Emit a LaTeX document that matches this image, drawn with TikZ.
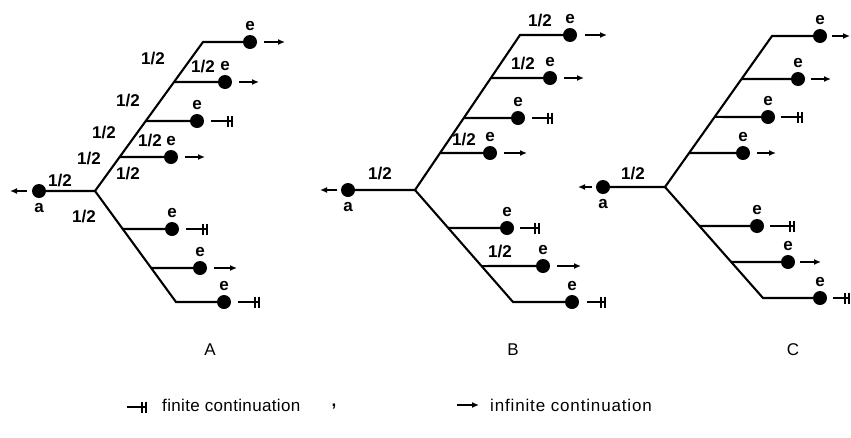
\documentclass[tikz,border=0pt]{standalone}
\usepackage{fontspec}
\setmainfont{Liberation Sans}
\usetikzlibrary{arrows.meta,calc}
\begin{document}
\begin{tikzpicture}[x=1pt,y=-1pt,
  ln/.style={line width=2.1pt},
  dotn/.style={circle,fill,inner sep=0pt,minimum size=14pt},
  lbl/.style={font=\fontsize{17}{17}\selectfont\bfseries,inner sep=0pt},
  txt/.style={font=\fontsize{17}{17}\selectfont,inner sep=0pt},
  elab/.style={label={[lbl,label distance=4pt]above:e}},
  alab/.style={label={[lbl,label distance=5pt]below:a}},
  inf/.style={line width=1.6pt,-{Latex[length=7pt,width=6pt]}},
  fin/.style={line width=1.6pt,-{Bar[width=11pt,line width=1.9pt,sep=2pt]Bar[width=11pt,line width=1.9pt]}},
]
\useasboundingbox (0,0) rectangle (851,437);

% ================= A =================
\coordinate (AR) at (95,191);
\coordinate (AT) at (203,42);
\coordinate (AL) at (176,302);
\coordinate (Ab1) at ($(AR)!0.7315!(AT)$);
\coordinate (Ab2) at ($(AR)!0.470!(AT)$);
\coordinate (Ab3) at ($(AR)!0.228!(AT)$);
\coordinate (Ab4) at ($(AR)!0.342!(AL)$);
\coordinate (Ab5) at ($(AR)!0.694!(AL)$);
\node[dotn,alab] (Aa) at (39,191) {};
\node[dotn,elab] (Ae0) at (250,42) {};
\node[dotn,elab] (Ae1) at (225,82) {};
\node[dotn,elab] (Ae2) at (197,121) {};
\node[dotn,elab] (Ae3) at (171,157) {};
\node[dotn,elab] (Ae4) at (172,229) {};
\node[dotn,elab] (Ae5) at (200,268) {};
\node[dotn,elab] (Ae6) at (224,302) {};
\draw[ln] (Aa.center) -- (AR) -- (AT) -- (Ae0.center);
\draw[ln] (AR) -- (AL) -- (Ae6.center);
\draw[ln] (Ab1) -- (Ae1.center);
\draw[ln] (Ab2) -- (Ae2.center);
\draw[ln] (Ab3) -- (Ae3.center);
\draw[ln] (Ab4) -- (Ae4.center);
\draw[ln] (Ab5) -- (Ae5.center);
\coordinate (Aas) at (27,191); \coordinate (Aat) at (10,191);
\draw[inf] (Aas) -- (Aat);
\coordinate (Ae0s) at (264,42);  \coordinate (Ae0t) at (285,42);  \draw[inf] (Ae0s) -- (Ae0t);
\coordinate (Ae1s) at (239,82);  \coordinate (Ae1t) at (259,82);  \draw[inf] (Ae1s) -- (Ae1t);
\coordinate (Ae2s) at (211,121); \coordinate (Ae2t) at (233,121); \draw[fin] (Ae2s) -- (Ae2t);
\coordinate (Ae3s) at (185,157); \coordinate (Ae3t) at (205,157); \draw[inf] (Ae3s) -- (Ae3t);
\coordinate (Ae4s) at (186,229); \coordinate (Ae4t) at (208,229); \draw[fin] (Ae4s) -- (Ae4t);
\coordinate (Ae5s) at (214,268); \coordinate (Ae5t) at (237,268); \draw[inf] (Ae5s) -- (Ae5t);
\coordinate (Ae6s) at (238,302); \coordinate (Ae6t) at (260,302); \draw[fin] (Ae6s) -- (Ae6t);
\node[lbl] (Ah1) at (60,181) {1/2};
\node[lbl] (Ah2) at (84,217) {1/2};
\node[lbl] (Ah3) at (89,159) {1/2};
\node[lbl] (Ah4) at (104,133) {1/2};
\node[lbl] (Ah5) at (128,101) {1/2};
\node[lbl] (Ah6) at (153,59) {1/2};
\node[lbl] (Ah7) at (203,67) {1/2};
\node[lbl] (Ah8) at (150,141) {1/2};
\node[lbl] (Ah9) at (128,174) {1/2};
\node[txt] (Alab) at (210,350) {A};

% ================= B =================
\coordinate (BR) at (415,190);
\coordinate (BT) at (520,35);
\coordinate (BL) at (513,302);
\coordinate (Bb1) at ($(BR)!0.7226!(BT)$);
\coordinate (Bb2) at ($(BR)!0.4645!(BT)$);
\coordinate (Bb3) at ($(BR)!0.2387!(BT)$);
\coordinate (Bb4) at ($(BR)!0.339!(BL)$);
\coordinate (Bb5) at ($(BR)!0.679!(BL)$);
\node[dotn,alab] (Ba) at (348,190) {};
\node[dotn,elab] (Be0) at (570,35) {};
\node[dotn,elab] (Be1) at (550,78) {};
\node[dotn,elab] (Be2) at (518,118) {};
\node[dotn,elab] (Be3) at (490,153) {};
\node[dotn,elab] (Be4) at (507,228) {};
\node[dotn,elab] (Be5) at (543,266) {};
\node[dotn,elab] (Be6) at (572,302) {};
\draw[ln] (Ba.center) -- (BR) -- (BT) -- (Be0.center);
\draw[ln] (BR) -- (BL) -- (Be6.center);
\draw[ln] (Bb1) -- (Be1.center);
\draw[ln] (Bb2) -- (Be2.center);
\draw[ln] (Bb3) -- (Be3.center);
\draw[ln] (Bb4) -- (Be4.center);
\draw[ln] (Bb5) -- (Be5.center);
\coordinate (Bas) at (337,190); \coordinate (Bat) at (320,190);
\draw[inf] (Bas) -- (Bat);
\coordinate (Be0s) at (585,35);  \coordinate (Be0t) at (607,35);  \draw[inf] (Be0s) -- (Be0t);
\coordinate (Be1s) at (564,78);  \coordinate (Be1t) at (584,78);  \draw[inf] (Be1s) -- (Be1t);
\coordinate (Be2s) at (532,118); \coordinate (Be2t) at (553,118); \draw[fin] (Be2s) -- (Be2t);
\coordinate (Be3s) at (504,153); \coordinate (Be3t) at (527,153); \draw[inf] (Be3s) -- (Be3t);
\coordinate (Be4s) at (520,228); \coordinate (Be4t) at (540,228); \draw[fin] (Be4s) -- (Be4t);
\coordinate (Be5s) at (557,266); \coordinate (Be5t) at (581,266); \draw[inf] (Be5s) -- (Be5t);
\coordinate (Be6s) at (587,302); \coordinate (Be6t) at (606,302); \draw[fin] (Be6s) -- (Be6t);
\node[lbl] (Bh1) at (380,174) {1/2};
\node[lbl] (Bh2) at (540,21) {1/2};
\node[lbl] (Bh3) at (523,64) {1/2};
\node[lbl] (Bh4) at (464,140) {1/2};
\node[lbl] (Bh5) at (500,252) {1/2};
\node[txt] (Blab) at (513,350) {B};

% ================= C =================
\coordinate (CR) at (665,187);
\coordinate (CT) at (772,36);
\coordinate (CL) at (763,298);
\coordinate (Cb1) at ($(CR)!0.715!(CT)$);
\coordinate (Cb2) at ($(CR)!0.464!(CT)$);
\coordinate (Cb3) at ($(CR)!0.225!(CT)$);
\coordinate (Cb4) at ($(CR)!0.3514!(CL)$);
\coordinate (Cb5) at ($(CR)!0.6757!(CL)$);
\node[dotn,alab] (Ca) at (603,187) {};
\node[dotn,elab] (Ce0) at (820,36) {};
\node[dotn,elab] (Ce1) at (798,79) {};
\node[dotn,elab] (Ce2) at (768,117) {};
\node[dotn,elab] (Ce3) at (743,153) {};
\node[dotn,elab] (Ce4) at (757,226) {};
\node[dotn,elab] (Ce5) at (788,262) {};
\node[dotn,elab] (Ce6) at (820,298) {};
\draw[ln] (Ca.center) -- (CR) -- (CT) -- (Ce0.center);
\draw[ln] (CR) -- (CL) -- (Ce6.center);
\draw[ln] (Cb1) -- (Ce1.center);
\draw[ln] (Cb2) -- (Ce2.center);
\draw[ln] (Cb3) -- (Ce3.center);
\draw[ln] (Cb4) -- (Ce4.center);
\draw[ln] (Cb5) -- (Ce5.center);
\coordinate (Cas) at (592,187); \coordinate (Cat) at (578,187);
\draw[inf] (Cas) -- (Cat);
\coordinate (Ce0s) at (832,36);  \coordinate (Ce0t) at (850,36);  \draw[inf] (Ce0s) -- (Ce0t);
\coordinate (Ce1s) at (811,79);  \coordinate (Ce1t) at (831,79);  \draw[inf] (Ce1s) -- (Ce1t);
\coordinate (Ce2s) at (781,117); \coordinate (Ce2t) at (803,117); \draw[fin] (Ce2s) -- (Ce2t);
\coordinate (Ce3s) at (757,153); \coordinate (Ce3t) at (776,153); \draw[inf] (Ce3s) -- (Ce3t);
\coordinate (Ce4s) at (770,226); \coordinate (Ce4t) at (795,226); \draw[fin] (Ce4s) -- (Ce4t);
\coordinate (Ce5s) at (800,262); \coordinate (Ce5t) at (821,262); \draw[inf] (Ce5s) -- (Ce5t);
\coordinate (Ce6s) at (833,298); \coordinate (Ce6t) at (850,298); \draw[fin] (Ce6s) -- (Ce6t);
\node[lbl] (Ch1) at (633,174) {1/2};
\node[txt] (Clab) at (793,350) {C};

% ================= legend =================
\coordinate (Lfs) at (127,407); \coordinate (Lft) at (147,407);
\draw[fin] (Lfs) -- (Lft);
\node[txt,anchor=west] (Lf) at (162,405) {\addfontfeature{LetterSpace=2}finite continuation};
\node[lbl] (Lc) at (334,407) {,};
\coordinate (Lis) at (457,405); \coordinate (Lit) at (479,405);
\draw[inf] (Lis) -- (Lit);
\node[txt,anchor=west] (Li) at (490,405) {\addfontfeature{LetterSpace=5}infinite continuation};
\end{tikzpicture}
\end{document}
